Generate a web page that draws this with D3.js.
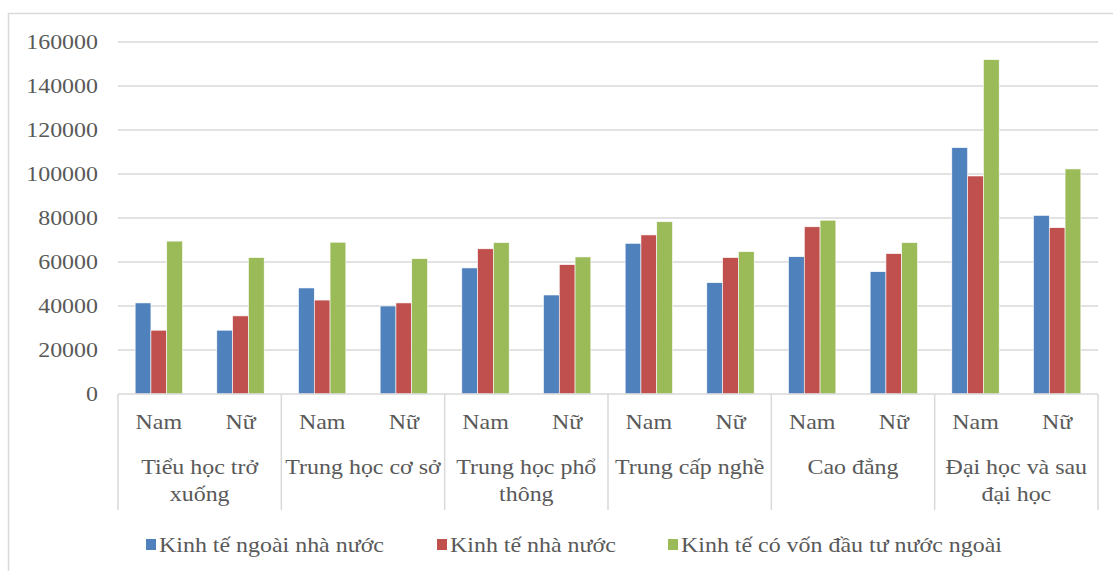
<!DOCTYPE html>
<html>
<head>
<meta charset="utf-8">
<script src="https://cdn.jsdelivr.net/npm/d3@7"></script>
<style>
  body { margin: 0; background: #fff; }
  svg text { font-family: "Liberation Serif", "Times New Roman", serif; fill: #595959; }
</style>
</head>
<body>
<div class="chart"></div>
<script>
// categories (two-level axis)
var groups = [["Tiểu học trở", "xuống"], ["Trung học cơ sở"], ["Trung học phổ", "thông"],
              ["Trung cấp nghề"], ["Cao đẳng"], ["Đại học và sau", "đại học"]];
var genders = ["Nam", "Nữ"];

// series values, one per (group, gender) in order
var seriesNames = ["Kinh tế ngoài nhà nước", "Kinh tế nhà nước", "Kinh tế có vốn đầu tư nước ngoài"];
var ngoaiNhaNuoc = [41400, 29000, 48200, 40000, 57300, 45000, 68500, 50600, 62400, 55600, 112000, 81200];
var nhaNuoc      = [29000, 35500, 42700, 41400, 66000, 58800, 72300, 62000, 76000, 63800, 99100, 75600];
var fdi          = [69500, 62000, 69000, 61500, 68800, 62300, 78300, 64700, 79000, 68800, 152000, 102300];
var yTicks = [0, 20000, 40000, 60000, 80000, 100000, 120000, 140000, 160000];

var colors = ["#4F81BD", "#C0504D", "#9BBB59"];
var series = [ngoaiNhaNuoc, nhaNuoc, fdi];

var W = 1113, H = 571;
var plotLeft = 118, plotRight = 1098, plotTop = 42, plotBottom = 394;
var stretch = "scale(1.14,1)";  // the source text is a bit wide

var svg = d3.select(".chart").append("svg")
    .attr("width", W).attr("height", H);

// outer frame (cropped at right/bottom like the reference)
svg.append("path")
    .attr("d", "M8.5," + H + "V13.5H" + W)
    .attr("fill", "none").attr("stroke", "#d9d9d9").attr("stroke-width", 1.5);

// flat list of sub-categories
var subs = [];
groups.forEach(function(g, gi) {
    genders.forEach(function(s) { subs.push(gi + "-" + s); });
});

var x0 = d3.scaleBand().domain(subs).range([plotLeft, plotRight]).paddingInner(0.42).paddingOuter(0.21);
var xCat = d3.scaleBand().domain(d3.range(groups.length)).range([plotLeft, plotRight]);
var x1 = d3.scaleBand().domain(d3.range(3)).range([0, x0.bandwidth()]);
var y = d3.scaleLinear().domain([0, 160000]).range([plotBottom, plotTop]);

// gridlines
svg.append("g").selectAll("line").data(yTicks.slice(1)).enter().append("line")
    .attr("x1", plotLeft).attr("x2", plotRight)
    .attr("y1", function(d) { return y(d); }).attr("y2", function(d) { return y(d); })
    .attr("stroke", "#d9d9d9").attr("stroke-width", 1.5);

// y axis labels
svg.append("g").selectAll("text").data(yTicks).enter().append("text")
    .attr("transform", function(d) { return "translate(98," + y(d) + ") " + stretch; })
    .attr("dy", "0.34em")
    .attr("text-anchor", "end")
    .style("font-size", "21px")
    .text(d3.format("d"));

// bars
series.forEach(function(vals, si) {
    svg.append("g").selectAll("rect").data(vals).enter().append("rect")
        .attr("x", function(d, i) { return x0(subs[i]) + x1(si); })
        .attr("y", function(d) { return y(d); })
        .attr("width", x1.bandwidth())
        .attr("height", function(d) { return plotBottom - y(d); })
        .attr("fill", colors[si])
        .attr("stroke", "#fff").attr("stroke-width", 0.6);
});

// x axis line
svg.append("line").attr("x1", plotLeft).attr("x2", plotRight)
    .attr("y1", plotBottom).attr("y2", plotBottom)
    .attr("stroke", "#d9d9d9").attr("stroke-width", 1.5);

// category separators
var seps = d3.range(groups.length + 1).map(function(i) { return i < groups.length ? xCat(i) : plotRight; });
svg.append("g").selectAll("line").data(seps).enter().append("line")
    .attr("x1", function(d) { return d; }).attr("x2", function(d) { return d; })
    .attr("y1", plotBottom).attr("y2", 510)
    .attr("stroke", "#d9d9d9").attr("stroke-width", 1.5);

// sub labels
svg.append("g").selectAll("text").data(subs).enter().append("text")
    .attr("transform", function(d) { return "translate(" + (x0(d) + x0.bandwidth() / 2) + ",429) " + stretch; })
    .attr("text-anchor", "middle")
    .style("font-size", "21px")
    .text(function(d) { return d.split("-")[1]; });

// group labels
var gl = svg.append("g").selectAll("text").data(groups).enter().append("text")
    .attr("transform", function(d, i) { return "translate(" + (xCat(i) + xCat.bandwidth() / 2) + ",474) " + stretch; })
    .attr("text-anchor", "middle")
    .style("font-size", "21px");
gl.selectAll("tspan").data(function(d) { return d; }).enter().append("tspan")
    .attr("x", 0)
    .attr("dy", function(d, i) { return i === 0 ? 0 : 27; })
    .text(function(d) { return d; });

// legend
var legendX = [146, 437, 668];
var lg = svg.append("g").selectAll("g").data(seriesNames).enter().append("g")
    .attr("transform", function(d, i) { return "translate(" + legendX[i] + ",539)"; });
lg.append("rect").attr("width", 10).attr("height", 11)
    .attr("fill", function(d, i) { return colors[i]; });
lg.append("text").attr("transform", "translate(13,13) " + stretch)
    .style("font-size", "21px")
    .text(function(d) { return d; });
</script>
</body>
</html>
